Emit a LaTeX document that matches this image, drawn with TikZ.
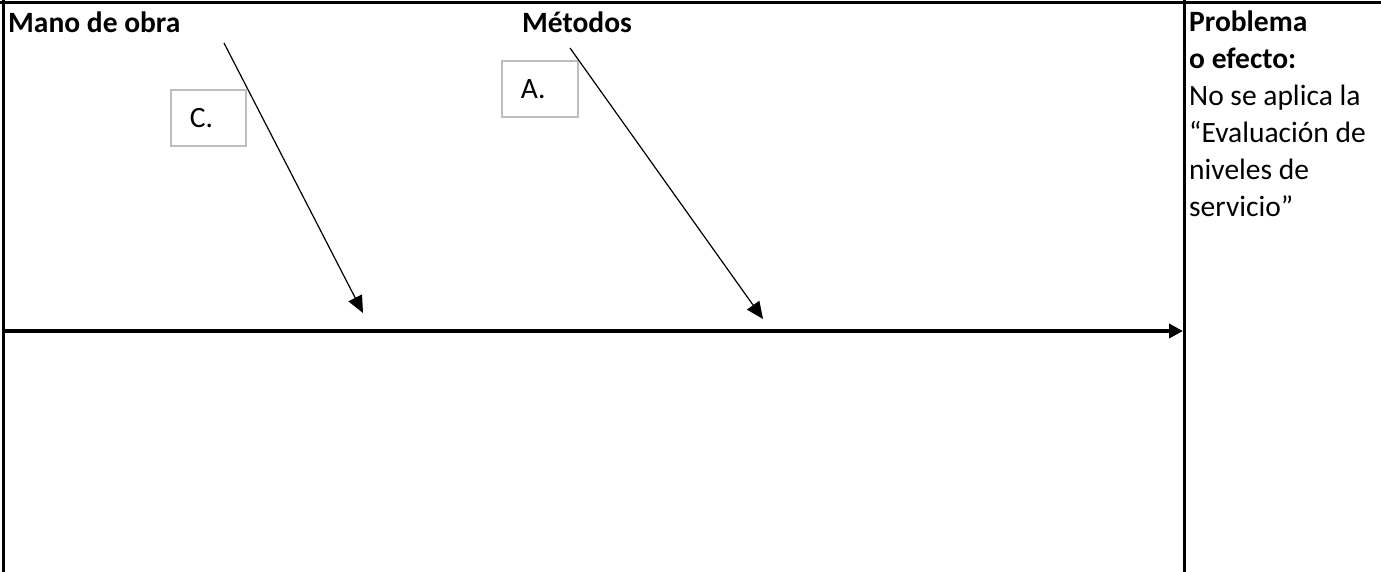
\documentclass[tikz,border=0pt]{standalone}
\usepackage{fontspec}
\setmainfont{Carlito}
\usetikzlibrary{arrows.meta}
\definecolor{boxgray}{RGB}{190,190,190}
\tikzset{
  frameline/.style={line width=3pt, line cap=rect},
  causearrow/.style={line width=1.2pt, -{Triangle[length=17pt,width=15pt]}},
  spinearrow/.style={line width=3.8pt, -{Triangle[length=14pt,width=14pt]}},
  causebox/.style={draw=boxgray, line width=1.8pt, anchor=north west, inner sep=0pt,
    minimum height=56pt, align=left, font=\fontsize{29.5}{37}\selectfont},
  headlabel/.style={anchor=base west, inner sep=0pt, font=\bfseries\fontsize{29.5}{37}\selectfont},
  effecttext/.style={anchor=north west, inner sep=0pt, align=left, font=\fontsize{29.5}{37}\selectfont}
}
\begin{document}
\begin{tikzpicture}[x=1pt,y=-1pt]
\useasboundingbox (0,0) rectangle (1381,571);
% frame
\coordinate (tl) at (0,2);
\coordinate (tr) at (1381,2);
\coordinate (lt) at (3,0);
\coordinate (lb) at (3,571);
\coordinate (vt) at (1184,0);
\coordinate (vb) at (1184,571);
\draw[frameline] (tl) -- (tr);
\draw[frameline] (lt) -- (lb);
\draw[frameline] (vt) -- (vb);
% spine
\coordinate (spinestart) at (3,331);
\coordinate (spineend) at (1183,331);
\draw[spinearrow] (spinestart) -- (spineend);
% category labels
\node[headlabel] (mano) at (8,32) {Mano de obra};
\node[headlabel] (metodos) at (522,32) {Métodos};
% boxes
\node[causebox, minimum width=75pt, text width=37pt, inner xsep=18pt] (boxc) at (170,89) {C.};
\node[causebox, minimum width=76pt, text width=38pt, inner xsep=19pt] (boxa) at (501,60) {A.};
% cause arrows
\coordinate (c1s) at (224,43);
\coordinate (c1e) at (363,313);
\coordinate (c2s) at (570,48);
\coordinate (c2e) at (763,319);
\draw[causearrow] (c1s) -- (c1e);
\draw[causearrow] (c2s) -- (c2e);
% effect
\node[effecttext] (effect) at (1189,11) {\textbf{Problema}\\\textbf{o efecto:}\\No se aplica la\\“Evaluación de\\niveles de\\servicio”};
\end{tikzpicture}
\end{document}
